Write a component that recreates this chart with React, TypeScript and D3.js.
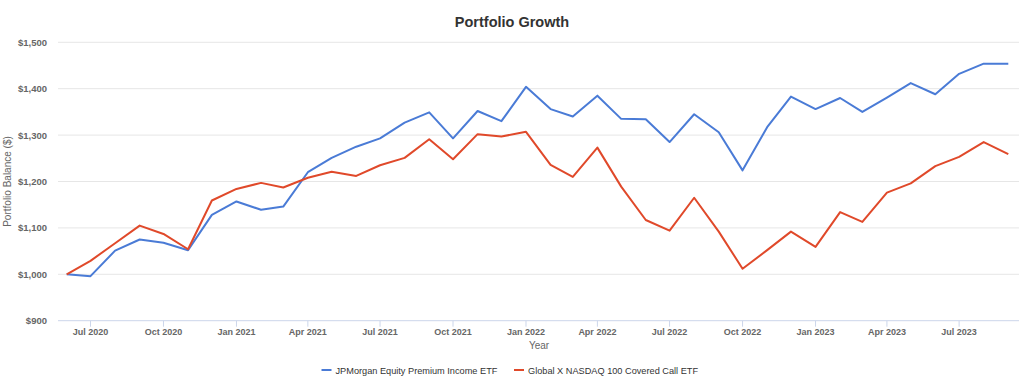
import React from "react";
import * as d3 from "d3";

const months: string[] = [
  "2020-06","2020-07","2020-08","2020-09","2020-10","2020-11","2020-12",
  "2021-01","2021-02","2021-03","2021-04","2021-05","2021-06","2021-07","2021-08","2021-09","2021-10","2021-11","2021-12",
  "2022-01","2022-02","2022-03","2022-04","2022-05","2022-06","2022-07","2022-08","2022-09","2022-10","2022-11","2022-12",
  "2023-01","2023-02","2023-03","2023-04","2023-05","2023-06","2023-07","2023-08","2023-09",
];

const jepi: number[] = [
  1000, 996, 1051, 1075, 1068, 1052, 1128,
  1157, 1139, 1146, 1220, 1251, 1275, 1293, 1327, 1349, 1293, 1352, 1330,
  1404, 1356, 1340, 1385, 1335, 1334, 1285, 1345, 1306, 1224, 1317, 1383,
  1356, 1380, 1350, 1381, 1412, 1388, 1432, 1454, 1454,
];

const qyld: number[] = [
  1000, 1029, 1067, 1105, 1087, 1054, 1159,
  1184, 1197, 1187, 1208, 1221, 1212, 1235, 1251, 1291, 1248, 1302, 1297,
  1307, 1236, 1210, 1273, 1189, 1117, 1094, 1165, 1092, 1012, 1052, 1092,
  1059, 1134, 1113, 1176, 1196, 1233, 1253, 1285, 1259,
];

const seriesNames: string[] = [
  "JPMorgan Equity Premium Income ETF",
  "Global X NASDAQ 100 Covered Call ETF",
];
const seriesColors: string[] = ["#4a7bd6", "#e0492a"];

const yTicks: number[] = [900, 1000, 1100, 1200, 1300, 1400, 1500];
const xTickDates: string[] = [
  "2020-07","2020-10","2021-01","2021-04","2021-07","2021-10",
  "2022-01","2022-04","2022-07","2022-10","2023-01","2023-04","2023-07",
];

const W = 1024;
const H = 380;
const FONT = "Arial, 'Liberation Sans', Helvetica, sans-serif";

export default function App() {
  const parse = d3.timeParse("%Y-%m");
  const dates = months.map((m) => parse(m) as Date);
  const plotLeft = 58;
  const plotRight = 1019;
  const x = d3
    .scaleTime()
    .domain([parse("2020-06") as Date, parse("2023-09") as Date])
    .range([66.7, 1008.3]);
  const y = d3.scaleLinear().domain([900, 1500]).range([320.7, 42.3]);
  const fmt = d3.format("$,");
  const tickFmt = d3.timeFormat("%b %Y");

  const line = d3
    .line<number>()
    .x((_, i) => x(dates[i]))
    .y((v) => y(v));

  const data = [jepi, qyld];

  return (
    <svg
      width={W}
      height={H}
      style={{ position: "absolute", left: 0, top: 0, background: "#fff" }}
      fontFamily={FONT}
    >
      <text
        x={512}
        y={27}
        textAnchor="middle"
        fontSize={14.5}
        fontWeight="bold"
        fill="#333"
      >
        Portfolio Growth
      </text>

      {yTicks.map((t) => (
        <g key={t}>
          <line
            x1={plotLeft}
            x2={plotRight}
            y1={y(t)}
            y2={y(t)}
            stroke={t === 900 ? "#ccd6eb" : "#e6e6e6"}
            strokeWidth={1}
          />
          <text
            x={47}
            y={y(t) + 3.5}
            textAnchor="end"
            fontSize={9.5}
            fontWeight="bold"
            fill="#666"
          >
            {fmt(t)}
          </text>
        </g>
      ))}

      <text
        transform={`translate(11,${y(1200)}) rotate(-90)`}
        textAnchor="middle"
        fontSize={10}
        fill="#666"
      >
        Portfolio Balance ($)
      </text>

      {xTickDates.map((s) => {
        const d = parse(s) as Date;
        const xx = x(d);
        return (
          <g key={s}>
            <line x1={xx} x2={xx} y1={y(900)} y2={y(900) + 6} stroke="#ccd6eb" />
            <text
              x={xx}
              y={335}
              textAnchor="middle"
              fontSize={9}
              fontWeight="bold"
              fill="#666"
            >
              {tickFmt(d)}
            </text>
          </g>
        );
      })}

      <text x={539} y={349} textAnchor="middle" fontSize={10} fill="#666">
        Year
      </text>

      {data.map((vals, k) => (
        <path
          key={k}
          d={line(vals) || ""}
          fill="none"
          stroke={seriesColors[k]}
          strokeWidth={2}
          strokeLinejoin="round"
        />
      ))}

      {seriesNames.map((n, k) => {
        const lx = k === 0 ? 321.5 : 514;
        return (
          <g key={n}>
            <line
              x1={lx}
              x2={lx + 10}
              y1={370}
              y2={370}
              stroke={seriesColors[k]}
              strokeWidth={2}
            />
            <text x={lx + 14} y={373.5} fontSize={9.2} fill="#333">
              {n}
            </text>
          </g>
        );
      })}
    </svg>
  );
}
